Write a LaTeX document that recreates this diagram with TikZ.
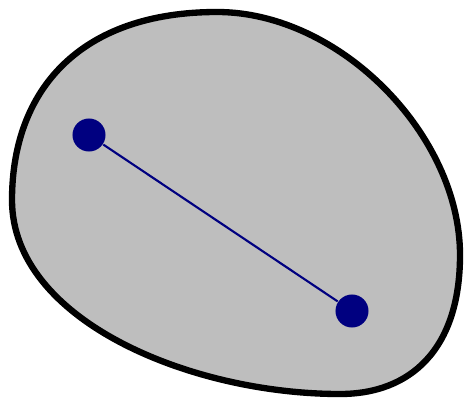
\documentclass[tikz,border=0pt]{standalone}
\usepackage{tikz}
\definecolor{blobgray}{HTML}{BEBEBE}
\definecolor{navy}{HTML}{000080}

\begin{document}
\begin{tikzpicture}[x=0.01cm,y=-0.01cm,
  region/.style={draw=black,line width=1.8pt,fill=blobgray},
  point/.style={circle,fill=navy,inner sep=0pt,minimum size=0.33cm},
  segment/.style={navy,line width=0.6pt}]
\useasboundingbox (0,0) rectangle (467,403);

% the convex region
\draw[region] (12,200)
  .. controls (12,90) and (80,12) .. (217,12)
  .. controls (340,12) and (460,135) .. (460,255)
  .. controls (460,350) and (410,394) .. (340,394)
  .. controls (190,394) and (12,320) .. cycle;

% two points and the segment between them
\node[point] (p) at (89,135) {};
\node[point] (q) at (352,311) {};
\draw[segment] (p) -- (q);

\end{tikzpicture}
\end{document}
